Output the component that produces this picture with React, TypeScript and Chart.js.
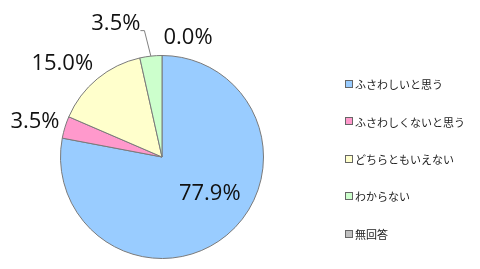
import React, { useEffect, useRef } from "react";
import { Chart, registerables } from "chart.js";
Chart.register(...registerables);

const categories = ["ふさわしいと思う", "ふさわしくないと思う", "どちらともいえない", "わからない", "無回答"];
const values = [77.9, 3.5, 15.0, 3.5, 0.0];
const colors = ["#99CCFF", "#FF99CC", "#FFFFCC", "#CCFFCC", "#C0C0C0"];
// label nudges relative to the point on the slice edge at its mid-angle
const labelNudges: [number, number][] = [[-17, -41], [-30, -6], [-35, -15], [-35, -32], [26, -18]];
const leaderIndex = 3;

const labelPlugin = {
  id: "pieLabels",
  afterDatasetsDraw(chart: any) {
    const ctx = chart.ctx;
    const meta = chart.getDatasetMeta(0);
    ctx.save();
    ctx.font = "22px 'Open Sans'";
    ctx.fillStyle = "#111";
    ctx.textAlign = "center";
    ctx.textBaseline = "middle";
    meta.data.forEach((arc: any, i: number) => {
      const p = arc.getProps(["x", "y", "startAngle", "endAngle", "outerRadius"], true);
      const m = (p.startAngle + p.endAngle) / 2;
      const ex = p.x + p.outerRadius * Math.cos(m);
      const ey = p.y + p.outerRadius * Math.sin(m);
      const lx = ex + labelNudges[i][0];
      const ly = ey + labelNudges[i][1];
      const txt = values[i].toFixed(1) + "%";
      ctx.fillText(txt, lx, ly);
      if (i === leaderIndex) {
        const w = ctx.measureText(txt).width;
        ctx.strokeStyle = "#808080";
        ctx.lineWidth = 1;
        ctx.beginPath();
        ctx.moveTo(ex, ey);
        ctx.lineTo(lx + w / 2 + 4, ly + 6.5);
        ctx.lineTo(lx + w / 2, ly + 6.5);
        ctx.stroke();
      }
    });
    ctx.restore();
  },
};

const legendPlugin = {
  id: "customLegend",
  afterDraw(chart: any) {
    const ctx = chart.ctx;
    ctx.save();
    ctx.font = "11px 'Noto Sans CJK JP'";
    ctx.textAlign = "left";
    ctx.textBaseline = "middle";
    categories.forEach((c, i) => {
      const cy = 84 + i * 37.4;
      ctx.fillStyle = colors[i];
      ctx.fillRect(346, Math.round(cy) - 3, 6, 6);
      ctx.strokeStyle = "#666";
      ctx.lineWidth = 1;
      ctx.strokeRect(345.5, Math.round(cy) - 3.5, 7, 7);
      ctx.fillStyle = "#222";
      ctx.fillText(c, 355, cy + 1);
    });
    ctx.restore();
  },
};

export default function App() {
  const ref = useRef<HTMLCanvasElement>(null);
  useEffect(() => {
    if (!ref.current) return;
    const chart = new Chart(ref.current, {
      type: "pie",
      data: {
        labels: categories,
        datasets: [
          {
            data: values,
            backgroundColor: colors,
            borderColor: "#7a7a7a",
            borderWidth: 1,
          },
        ],
      },
      options: {
        responsive: false,
        animation: false,
        layout: { padding: { left: 60, right: 216, top: 55, bottom: 10 } },
        plugins: { legend: { display: false }, tooltip: { enabled: false } },
      },
      plugins: [labelPlugin, legendPlugin],
    });
    return () => chart.destroy();
  }, []);
  return (
    <div style={{ position: "fixed", left: 0, top: 0, width: 480, height: 269, background: "#fff" }}>
      <canvas ref={ref} width={480} height={269} style={{ width: 480, height: 269, display: "block" }} />
    </div>
  );
}
